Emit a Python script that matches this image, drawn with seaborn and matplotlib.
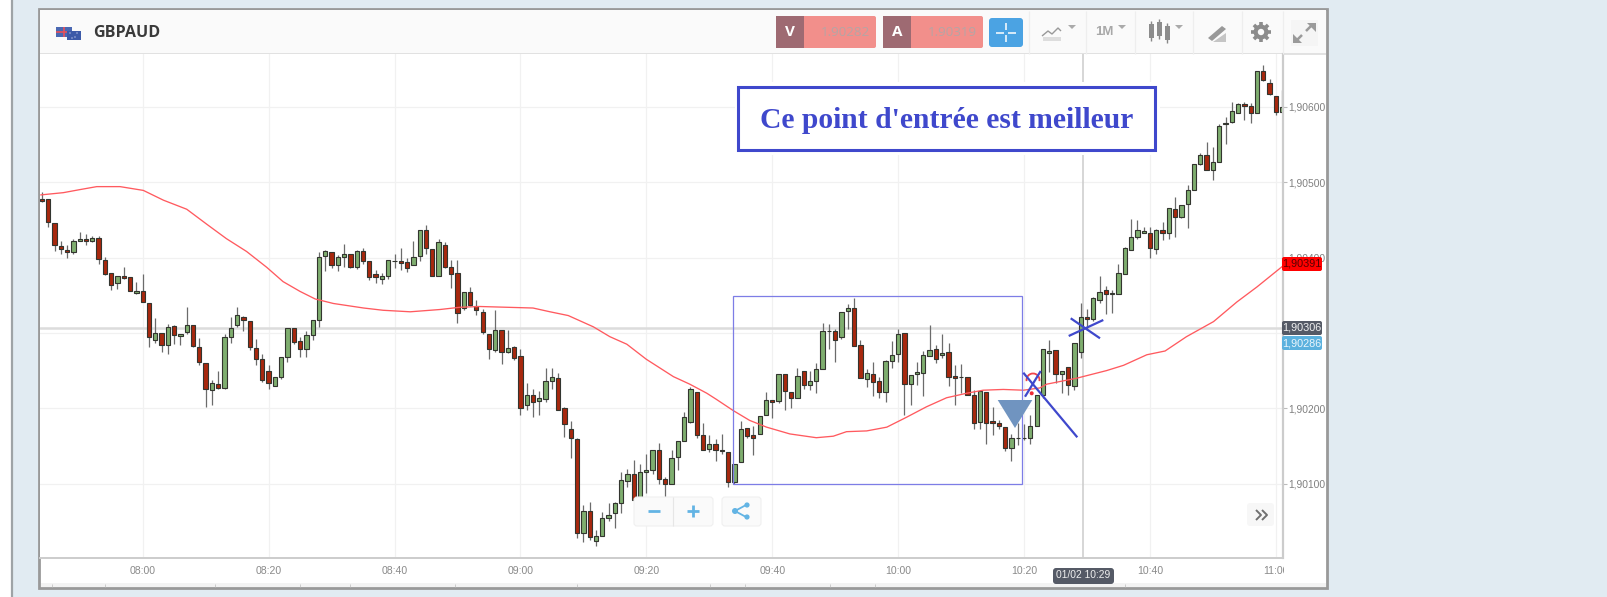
import matplotlib
matplotlib.use("Agg")
import matplotlib.pyplot as plt
import numpy as np
import pandas as pd
import seaborn as sns
from matplotlib.patches import Rectangle, FancyBboxPatch, Polygon, Circle, Arc

# ---------- data (points above 1.90000, one candle per minute from 07:44) ----------
opens = [478,478,446,415,410,407,422,425,422,426,397,380,366,375,374,353,356,340,291,300,
         284,309,296,301,310,281,260,224,232,227,295,310,321,316,280,265,250,230,241,268,
         307,289,278,297,317,402,407,390,401,405,387,408,395,378,372,375,396,395,394,390,
         402,436,411,376,417,387,380,333,354,336,328,298,277,304,275,281,269,205,218,210,
         212,236,240,201,172,159,35,64,24,31,54,61,74,104,113,80,115,118,145,106,
         100,136,157,182,222,165,146,152,145,142,102,129,174,164,166,191,211,210,245,221,
         213,250,231,236,252,303,303,294,329,333,284,239,246,236,221,263,272,300,232,245,
         247,270,278,271,275,243,242,241,218,182,221,183,181,175,148,160,160,160,177,218,
         274,277,246,255,230,275,321,319,343,357,351,352,378,410,427,433,433,411,437,433,
         464,454,471,490,524,536,516,526,577,580,592,604,601,592,648,632,614,593]
highs = [487,478,446,422,417,424,434,431,429,428,401,380,375,388,374,367,378,340,320,300,
         312,311,299,335,310,293,260,238,250,299,321,334,323,316,292,272,257,242,268,307,
         307,294,303,317,407,410,407,403,418,405,410,412,395,384,379,397,405,412,400,422,
         436,443,411,425,420,397,397,354,361,343,332,298,330,304,304,282,279,233,226,223,
         253,254,247,202,183,161,72,76,39,63,74,76,115,120,131,126,140,145,154,109,
         145,156,195,228,222,180,164,159,166,142,126,183,174,176,190,221,211,246,245,221,
         253,250,250,260,313,312,305,328,338,346,291,252,261,241,264,289,305,300,244,262,
         276,310,284,298,287,258,259,241,224,223,221,202,184,175,166,180,179,191,218,279,
         291,277,249,255,287,339,332,348,376,362,357,391,414,451,450,441,441,438,447,465,
         480,470,496,524,538,553,546,577,587,606,605,606,605,648,655,637,614,622]
lows = [474,440,408,405,399,405,422,416,420,392,377,357,358,372,355,352,341,281,286,275,
        272,285,284,299,281,257,202,204,225,226,287,308,303,277,257,235,226,230,239,261,
        285,268,268,291,308,382,386,382,388,386,385,392,370,366,365,371,386,384,381,390,
        396,405,375,376,386,360,313,331,336,324,298,265,275,259,274,264,191,198,188,191,
        208,226,198,162,134,28,23,25,18,30,50,41,61,96,78,77,88,113,99,83,
        100,118,157,181,161,145,142,130,140,95,100,129,160,138,166,191,187,207,198,201,
        213,225,224,220,252,278,262,292,305,282,240,228,216,213,209,254,262,191,205,231,
        216,269,260,267,230,204,220,217,172,172,153,164,173,144,130,151,158,153,177,213,
        248,233,220,218,224,267,304,316,339,325,326,351,378,410,425,432,399,404,423,424,
        427,453,439,489,523,516,503,526,551,579,591,583,579,592,634,615,589,593]
closes = [475,447,416,411,407,422,425,422,426,398,378,364,375,373,356,356,341,294,300,284,
          308,297,299,310,282,261,225,233,227,295,307,324,317,281,266,238,233,242,268,307,
          288,278,297,317,401,408,390,401,404,387,409,395,374,374,375,397,396,393,386,401,
          436,413,376,421,387,378,326,354,337,330,301,278,304,275,280,267,201,218,209,214,
          236,241,198,179,160,34,64,29,30,54,59,74,105,113,79,115,118,145,106,100,
          134,156,189,225,165,145,152,145,143,102,126,173,163,161,190,211,209,246,223,214,
          243,231,236,252,303,303,291,328,333,282,240,247,235,221,263,271,298,232,244,248,
          271,277,266,274,242,240,242,218,181,223,181,181,176,148,160,160,160,177,218,278,
          276,245,249,231,287,321,319,346,354,351,353,379,412,427,436,435,412,437,433,465,
          454,470,489,524,536,516,526,575,579,594,604,601,592,648,635,617,593,600]

ma_minutes = [-16.2,-12.6,-10,-7.3,-3.6,0.1,3.3,7,10.2,13.3,16.5,19.7,22.3,25,27.4,30.3,35.1,38.2,42.5,47.2,
              50.4,53.6,57.8,62,64.7,67.6,71.6,74.2,76.9,80,84.3,86.9,89.6,91.1,93.8,96.4,99.1,102.8,107,109.7,
              111.8,115,118.2,121.3,124.5,127.7,130.9,133.5,136.7,139.9,142.5,143.6,148.4,153.1,155.8,159.5,162.4,165.8,170.1,173.8,
              177,181]
ma_points = [483,486,490,494,494,489,476,464,444,425,408,387,368,355,345,339,333,330,328,331,
             334,335,334,333,328,323,308,295,285,265,242,232,220,212,197,184,175,166,161,163,
             169,170,175,188,202,214,220,224,225,224,227,232,240,250,257,271,276,295,315,341,
             361,388]

x_ticks = [0, 20, 40, 60, 80, 100, 120, 140, 160, 180]
x_labels = ["08:00","08:20","08:40","09:00","09:20","09:40","10:00","10:20","10:40","11:00"]
y_ticks = [1.90100, 1.90200, 1.90300, 1.90400, 1.90500, 1.90600]
y_labels = ["1,90100","1,90200","","1,90400","1,90500","1,90600"]
pair_name = "GBPAUD"
bid_label, ask_label = "1.90282", "1.90319"
note_text = "Ce point d'entrée est meilleur"
price_tags = [("1,90391", 264, "#ff0000", "#5a0000"), ("1,90306", 328, "#555a66", "#f0f0f0"), ("1,90286", 343, "#5bb1de", "#eaf6fc")]
cross_minute, cross_price = 149.3, 1.90307
box_minutes, box_prices = (93.7, 139.6), (1.90100, 1.90349)

# ---------- figure ----------
sns.set_theme(style="white")
plt.rcParams["font.family"] = ["Liberation Sans", "DejaVu Sans"]
W, H = 1607, 597
fig = plt.figure(figsize=(W/100, H/100), dpi=100, facecolor="white")

def pix_axes(z):
    a = fig.add_axes([0, 0, 1, 1], zorder=z)
    a.set_xlim(0, W); a.set_ylim(H, 0); a.axis("off"); a.patch.set_alpha(0)
    return a

under = pix_axes(0)
over = pix_axes(5)

def rect(a, x0, y0, x1, y1, fc="none", ec="none", lw=0, z=1):
    a.add_patch(Rectangle((x0, y0), x1-x0, y1-y0, facecolor=fc, edgecolor=ec, linewidth=lw, zorder=z))

def rbox(a, x0, y0, x1, y1, fc, ec="none", r=2, lw=0, z=2):
    a.add_patch(FancyBboxPatch((x0+r, y0+r), x1-x0-2*r, y1-y0-2*r, boxstyle=f"round,pad={r},rounding_size={r}",
                               facecolor=fc, edgecolor=ec, linewidth=lw, zorder=z))

def seg(a, xs, ys, c, lw=1.0, z=4):
    a.plot(xs, ys, color=c, lw=lw, zorder=z, solid_capstyle="butt")

# page background and frame
rect(under, 12.5, 0, W, H, fc="#e1ebf2")
seg(under, [12, 12], [0, H], "#9ea3a6", 1.6)
rect(under, 39, 9, 1327, 588, fc="white", ec="#999999", lw=2)
rect(under, 40, 10, 1326, 54, fc="#fafafa")
seg(under, [40, 1326], [54, 54], "#dddddd", 1.2)
rect(under, 41, 583, 1326, 587, fc="#f3f3f3")
for xp in (52, 105, 215, 300, 350, 455, 577, 710, 745, 830, 875, 1125):
    seg(under, [xp, xp], [584, 587], "#bbbbbb", 0.5)

# main chart
ax = fig.add_axes([40/W, 1-558/H, (1283-40)/W, (558-54)/H], zorder=1)
ax.set_facecolor("white")
df = pd.DataFrame({"o": opens, "h": highs, "l": lows, "c": closes}) / 1e5 + 1.9
df["minute"] = np.arange(len(df)) - 16
df["up"] = df["c"] >= df["o"]
ma = pd.DataFrame({"minute": ma_minutes, "price": 1.9 + np.array(ma_points)/1e5})

ax.vlines(df["minute"], df["l"], df["h"], color="#6b6b6b", lw=0.9, zorder=2)
ax.bar(df["minute"], (df["c"]-df["o"]).abs(), bottom=df[["o", "c"]].min(axis=1), width=0.68,
       color=np.where(df["up"], "#7fae6f", "#a8280e"), edgecolor="#33352f", linewidth=0.8, zorder=2.5)
sns.lineplot(data=ma, x="minute", y="price", ax=ax, color="#ff5a5f", lw=0.95, estimator=None, sort=False, zorder=3)

ax.axhline(cross_price, color="#dcdcdc", lw=1.8, zorder=1.5)
ax.axvline(cross_minute, color="#cfcfcf", lw=1.2, zorder=1.5)
ax.add_patch(Rectangle((box_minutes[0], box_prices[0]), box_minutes[1]-box_minutes[0], box_prices[1]-box_prices[0],
                       fill=False, edgecolor="#7d7de6", lw=0.9, zorder=3.5))

ax.set_xlim(-16.31, 181.13)
ax.set_ylim(1.9000145, 1.906699)
ax.set_xticks(x_ticks, x_labels)
ax.set_yticks(y_ticks, y_labels)
ax.yaxis.tick_right()
ax.grid(True, color="#f1f1f1", lw=0.9, zorder=0)
ax.set_axisbelow(True)
ax.set_xlabel(""); ax.set_ylabel("")
ax.tick_params(axis="x", length=4, width=0.8, color="#bbbbbb", labelcolor="#8a8a8a", labelsize=7.6, pad=1.5)
ax.tick_params(axis="y", length=3, width=0.8, color="#bbbbbb", labelcolor="#808080", labelsize=7.4, pad=1, right=True)
for s in ("top", "left"):
    ax.spines[s].set_visible(False)
ax.spines["right"].set_color("#cccccc"); ax.spines["right"].set_linewidth(1.6)
ax.spines["bottom"].set_color("#cccccc"); ax.spines["bottom"].set_linewidth(1.4)

# clip last x label at the axis end
rect(over, 1284, 560, 1326, 581, fc="white", z=1)

# header
over.text(93, 33, pair_name, fontsize=11.6, fontweight="bold", family="Open Sans", color="#3a3a3a", va="center", ha="left")
rect(over, 56, 27, 72, 37, fc="#4a68b2", z=2)
seg(over, [56, 72], [32, 32], "#e8505a", 1.2); seg(over, [64, 64], [27, 37], "#e8505a", 1.2)
rect(over, 67, 31, 81, 40, fc="#3c5aa8", z=5)
for dx, dy in ((70, 33), (77, 33), (75, 37), (72, 38)):
    over.add_patch(Circle((dx, dy), 0.6, fc="#f0f0ff", ec="none", zorder=6))
for xd in (1029, 1086, 1135, 1193, 1242, 1283):
    seg(over, [xd, xd], [11, 54], "#eeeeee", 0.9, z=1)

for x0, xm, x1, letter, val in ((776, 804, 876, "V", bid_label), (883, 911, 983, "A", ask_label)):
    rbox(over, x0, 16, x1, 48, "#f28f8b")
    rect(over, x0, 16, xm, 48, fc="#9e6a72", z=3)
    over.text((x0+xm)/2, 32, letter, color="white", fontsize=11, fontweight="bold", ha="center", va="center", zorder=4, family="Open Sans")
    over.text(x1-6, 32, val, color="#b5a5a5", fontsize=9.6, ha="right", va="center", zorder=4, family="Open Sans")
rbox(over, 989, 18, 1023, 47, "#4ba3e3", r=3)
for a_, b_, c_, d_ in ((996, 1004, 32.5, 32.5), (1008, 1016, 32.5, 32.5), (1006, 1006, 23, 30), (1006, 1006, 35, 42)):
    seg(over, [a_, b_], [c_, d_], "white", 1.1)

# toolbar icons
seg(over, [1042, 1048, 1052, 1058, 1061], [36, 31, 34, 28, 31], "#999999", 1.0)
rect(over, 1043, 37, 1061, 41, fc="#dddddd")
def caret(xc, yc=27):
    over.add_patch(Polygon([(xc-4, yc-2), (xc+4, yc-2), (xc, yc+2)], fc="#aaaaaa", ec="none", zorder=4))
for xc in (1072, 1122, 1179):
    caret(xc)
over.text(1104, 32, "1M", color="#a8a8a8", fontsize=9.5, ha="center", va="center", fontweight="bold")
for xc, t, b in ((1151, 24, 38), (1159, 22, 36), (1167, 26, 40)):
    seg(over, [xc, xc], [t-3, b+3], "#888888", 1.0)
    rect(over, xc-2.5, t, xc+2.5, b, fc="#8c8c8c", z=4)
over.add_patch(Polygon([(1208, 38), (1222, 26), (1226, 29), (1212, 41)], fc="#999999", ec="none", zorder=4))
over.add_patch(Polygon([(1213, 42), (1226, 33), (1226, 42)], fc="#c5c5c5", ec="none", zorder=4))
# gear
for ang in np.arange(0, 180, 45):
    dx, dy = 10*np.cos(np.radians(ang)), 10*np.sin(np.radians(ang))
    seg(over, [1261-dx, 1261+dx], [32-dy, 32+dy], "#8c8c8c", 2.6, z=4)
over.add_patch(Circle((1261, 32), 7.5, fc="#8c8c8c", ec="none", zorder=4))
over.add_patch(Circle((1261, 32), 3.2, fc="#fafafa", ec="none", zorder=5))
# expand
rect(over, 1291, 20, 1318, 46, fc="#f5f5f5", z=2)
seg(over, [1306, 1313], [31, 24], "#9a9a9a", 1.8)
over.add_patch(Polygon([(1316, 23), (1307, 23), (1316, 32)], fc="#9a9a9a", ec="none", zorder=5))
seg(over, [1302, 1295], [35, 42], "#9a9a9a", 1.8)
over.add_patch(Polygon([(1293, 43), (1302, 43), (1293, 34)], fc="#9a9a9a", ec="none", zorder=5))

# price tags
for label, yc, fc, tc in price_tags:
    rbox(over, 1282, yc-7, 1322, yc+7, fc, r=2, z=4)
    over.text(1302, yc, label, color=tc, fontsize=7.8, ha="center", va="center", zorder=5)

# time tooltip
rbox(over, 1053, 568, 1114, 584, "#555a66", r=3, z=4)
over.text(1083.5, 575.5, "01/02 10:29", color="#eeeeee", fontsize=7.4, ha="center", va="center", zorder=5)

# zoom and share buttons
rbox(over, 634, 497, 713, 526, "#fafafa", ec="#f0f0f0", lw=0.8, r=3, z=3)
seg(over, [673, 673], [497, 526], "#e6e6e6", 0.8, z=4)
seg(over, [648, 660], [511, 511], "#63b4e4", 2.0)
seg(over, [687, 699], [511, 511], "#63b4e4", 2.0); seg(over, [693, 693], [505, 517], "#63b4e4", 2.0)
rbox(over, 722, 497, 761, 526, "#fafafa", ec="#f0f0f0", lw=0.8, r=3, z=3)
seg(over, [746, 735, 746], [505, 511, 517], "#63b4e4", 1.3)
for cx, cy, r_ in ((747, 505, 2.6), (735, 511, 3), (747, 517, 2.6)):
    over.add_patch(Circle((cx, cy), r_, fc="#63b4e4", ec="none", zorder=5))
rbox(over, 1247, 503, 1274, 526, "#f7f7f7", r=3, z=3)
seg(over, [1256, 1261, 1256], [510, 515, 520], "#707070", 1.4)
seg(over, [1262, 1267, 1262], [510, 515, 520], "#707070", 1.4)

# hand drawn annotation
rect(over, 735, 82, 1160, 155, fc="white", z=1)
rect(over, 738, 87, 1155, 150, ec="#3f48cc", lw=2.2, z=2)
over.text(946.5, 120, note_text, family="Liberation Serif", fontweight="bold", fontsize=21.3, color="#3f48cc", ha="center", va="center", zorder=3)
over.add_patch(Polygon([(997.7, 400), (1032.3, 400), (1015, 428)], fc="#7094c0", ec="none", zorder=4))
over.add_patch(Arc((1033, 380), 13, 13, theta1=170, theta2=370, color="#f0444a", lw=1.3, zorder=4))
over.add_patch(Circle((1031.7, 393.3), 2, fc="#ee2a33", ec="none", zorder=4))
for xs, ys in (((1023.3, 1077.3), (372.7, 437.3)), ((1025, 1040.7), (396.7, 371)),
               ((1068.7, 1103.3), (336, 320)), ((1070.7, 1100), (318.3, 338.3))):
    seg(over, xs, ys, "#3f48cc", 1.6, z=5)

fig.savefig("out.png", dpi=100)
